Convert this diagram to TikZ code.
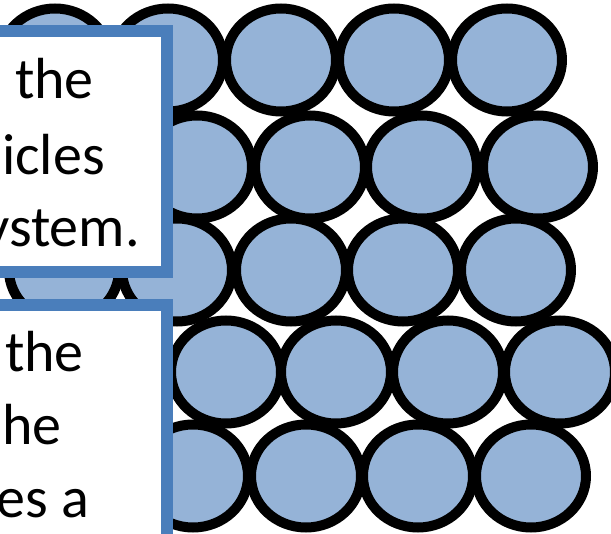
\documentclass[tikz,border=0pt]{standalone}
\usepackage{fontspec}
\setmainfont{Carlito}
\usepackage{tikz}
\usetikzlibrary{shapes.geometric}
\definecolor{boxblue}{HTML}{4A7EBB}
\definecolor{particleblue}{HTML}{95B3D7}

\begin{document}
\begin{tikzpicture}[x=1pt, y=-1pt]
    % Styles
    \tikzstyle{particle} = [ellipse, draw=black, line width=10pt, fill=particleblue, minimum width=110pt, minimum height=103pt, inner sep=0pt]
    \tikzstyle{infobox} = [draw=boxblue, line width=12pt, fill=white]
    \tikzstyle{caption} = [anchor=base east, inner sep=0pt, font=\fontsize{58}{74}\selectfont]

    \useasboundingbox (0,0) rectangle (611,534);
    \clip (0,0) rectangle (611,534);

    % Particle rows
    \foreach \x [count=\i] in {55,168,281,394,507}
        \node[particle] (RowA\i) at (\x,60) {};
    \foreach \x [count=\i] in {84,197,310,422,538}
        \node[particle] (RowB\i) at (\x,167) {};
    \foreach \x [count=\i] in {64,177,291,403,516}
        \node[particle] (RowC\i) at (\x,270) {};
    \foreach \x [count=\i] in {0,113,226,336,448,560}
        \node[particle] (RowD\i) at (\x,372) {};
    \foreach \x [count=\i] in {80,193,306,418,531}
        \node[particle] (RowE\i) at (\x,476) {};

    % Text boxes
    \draw[infobox] (-20,31) rectangle (167,272);
    \draw[infobox] (-20,305) rectangle (167,560);

    % Upper box text
    \node[caption] (UpperA) at (94,99) {the};
    \node[caption] (UpperB) at (105,175) {icles};
    \node[caption] (UpperC) at (140,247) {ystem.};

    % Lower box text
    \node[caption] (LowerA) at (84,372) {the};
    \node[caption] (LowerB) at (62,445) {he};
    \node[caption] (LowerC) at (89,518) {es a};
\end{tikzpicture}
\end{document}
